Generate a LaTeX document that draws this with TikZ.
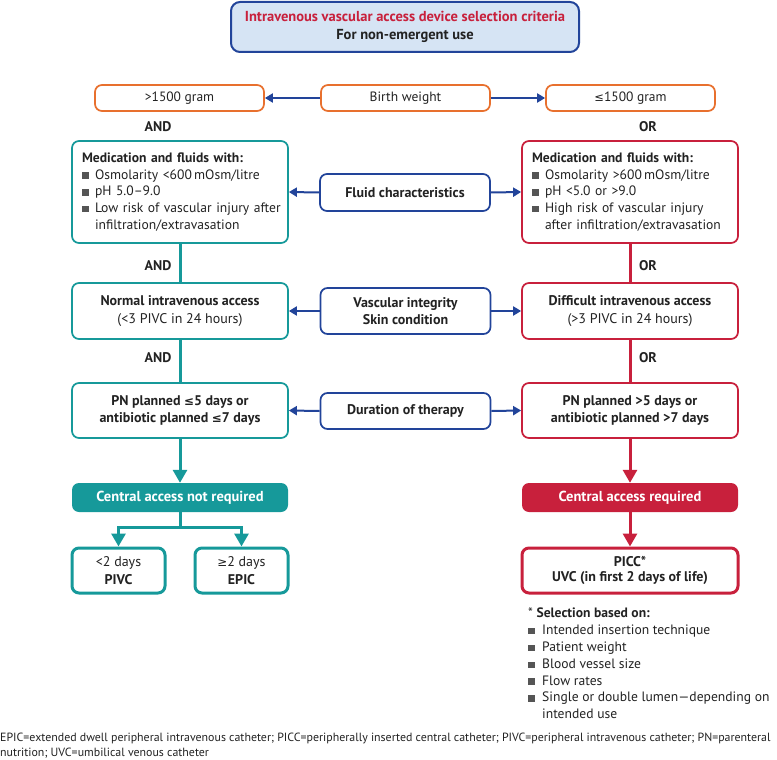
\documentclass[tikz,border=0pt]{standalone}
\usepackage{fontspec}
\setmainfont{PT Sans}
\newfontfamily\symf{DejaVu Sans}
\usetikzlibrary{arrows.meta}
\definecolor{tealc}{HTML}{16999A}
\definecolor{redc}{HTML}{C8203C}
\definecolor{bluec}{HTML}{22449A}
\definecolor{orangec}{HTML}{E8702E}
\definecolor{titlefill}{HTML}{D6E4F4}
\definecolor{bgray}{HTML}{555555}
\definecolor{txtc}{HTML}{222222}
\newcommand{\mybul}{\makebox[13pt][l]{\textcolor{bgray}{\rule[0.3pt]{6.5pt}{6.5pt}}}}
\newcommand{\myind}{\hspace*{13pt}}
\newcommand{\myle}{{\symf\scalebox{0.85}{≤}}}
\newcommand{\myge}{{\symf\scalebox{0.85}{≥}}}
\begin{document}
\begin{tikzpicture}[x=1pt,y=-1pt,
  every node/.style={text=txtc, font=\fontsize{14}{16.5}\selectfont},
  basebox/.style={rounded corners=7pt, line width=1.7pt, inner sep=0pt, align=center},
  orangebox/.style={basebox, draw=orangec, minimum width=169pt, minimum height=26pt, font=\fontsize{13.5}{16.5}\selectfont},
  bluebox/.style={basebox, draw=bluec, minimum width=170pt},
  tealbox/.style={basebox, draw=tealc, minimum width=216pt},
  redbox/.style={basebox, draw=redc, minimum width=216pt},
  listbox/.style={align=left, text width=202pt, inner xsep=7pt, inner ysep=0pt, font=\fontsize{13.6}{16.6}\selectfont},
  tealfill/.style={rounded corners=7pt, fill=tealc, minimum width=216pt, minimum height=29pt, text=white, font=\fontsize{14.5}{16}\selectfont\bfseries},
  redfill/.style={rounded corners=7pt, fill=redc, minimum width=216pt, minimum height=29pt, text=white, font=\fontsize{14.5}{16}\selectfont\bfseries},
  lab/.style={font=\fontsize{14}{16}\selectfont\bfseries},
  bluearrow/.style={draw=bluec, line width=2pt, -{Triangle[length=8pt,width=9pt]}},
  tealline/.style={draw=tealc, line width=3pt},
  redline/.style={draw=redc, line width=3pt},
  tealarrow/.style={tealline, -{Triangle[length=13pt,width=14pt]}},
  redarrow/.style={redline, -{Triangle[length=13pt,width=14pt]}}
]
\useasboundingbox (0,0) rectangle (777,760);

% title
\node[basebox, draw=bluec, line width=2pt, fill=titlefill, minimum width=348pt, minimum height=50pt, rounded corners=9pt, font=\fontsize{14.5}{17.5}\selectfont\bfseries] (title) at (405,27)
  {\textcolor{redc}{Intravenous vascular access device selection criteria}\\
   For non-emergent use};

% birth weight row
\node[orangebox] (bwL) at (179.5,98) {>1500 gram};
\node[orangebox] (bw) at (405.5,98) {Birth weight};
\node[orangebox] (bwR) at (630.5,98) {\myle1500 gram};
\draw[bluearrow] (bw.west) -- (bwL.east);
\draw[bluearrow] (bw.east) -- (bwR.west);
\node[lab] (and1) at (158,127) {AND};
\node[lab] (or1) at (648,127) {OR};

% fluid row
\node[tealbox, listbox, minimum height=102pt] (fluidL) at (180,192)
  {\hspace*{3pt}{\bfseries Medication and fluids with:}\\
   \hspace*{3pt}\mybul Osmolarity <600\,mOsm/litre\\
   \hspace*{3pt}\mybul pH 5.0–9.0\\
   \hspace*{3pt}\mybul Low risk of vascular injury after\\
   \hspace*{3pt}\myind infiltration/extravasation};
\node[bluebox, minimum height=37pt] (fluid) at (405,192.5) {\bfseries Fluid characteristics};
\node[redbox, listbox, minimum height=102pt] (fluidR) at (630,192)
  {\hspace*{3pt}{\bfseries Medication and fluids with:}\\
   \hspace*{3pt}\mybul Osmolarity >600\,mOsm/litre\\
   \hspace*{3pt}\mybul pH <5.0 or >9.0\\
   \hspace*{3pt}\mybul High risk of vascular injury\\
   \hspace*{3pt}\myind after infiltration/extravasation};
\draw[bluearrow] (fluid.west) -- (fluidL.east);
\draw[bluearrow] (fluid.east) -- (fluidR.west);

% normal access row
\node[tealbox, minimum height=56pt] (normL) at (180,311)
  {{\bfseries Normal intravenous access}\\[2pt](<3 PIVC in 24 hours)};
\node[bluebox, minimum height=46pt] (vasc) at (405.5,311)
  {\bfseries Vascular integrity\\[1pt]\bfseries Skin condition};
\node[redbox, minimum height=56pt] (normR) at (630,311)
  {{\bfseries Difficult intravenous access}\\[2pt](>3 PIVC in 24 hours)};
\draw[bluearrow] (vasc.west) -- (normL.east);
\draw[bluearrow] (vasc.east) -- (normR.west);
\draw[tealline] (fluidL.south) -- (normL.north);
\draw[redline] (fluidR.south) -- (normR.north);
\node[lab] (and2) at (158,266) {AND};
\node[lab] (or2) at (648,266) {OR};

% PN row
\node[tealbox, minimum height=55pt] (pnL) at (180,410.5)
  {\bfseries PN planned \myle5 days or\\\bfseries antibiotic planned \myle7 days};
\node[bluebox, minimum height=36pt] (dur) at (405.5,411) {\bfseries Duration of therapy};
\node[redbox, minimum height=55pt] (pnR) at (630,410.5)
  {\bfseries PN planned >5 days or\\\bfseries antibiotic planned >7 days};
\draw[bluearrow] (dur.west) -- (pnL.east);
\draw[bluearrow] (dur.east) -- (pnR.west);
\draw[tealline] (normL.south) -- (pnL.north);
\draw[redline] (normR.south) -- (pnR.north);
\node[lab] (and3) at (158,358) {AND};
\node[lab] (or3) at (648,358) {OR};

% central access
\node[tealfill] (centL) at (180,497.5) {Central access not required};
\node[redfill] (centR) at (630,497.5) {Central access required};
\draw[tealarrow] (pnL.south) -- (centL.north);
\draw[redarrow] (pnR.south) -- (centR.north);

% bottom boxes
\node[basebox, draw=tealc, line width=3pt, minimum width=93pt, minimum height=45pt] (pivc) at (118.5,570.5)
  {<2 days\\[1pt]\bfseries PIVC};
\node[basebox, draw=tealc, line width=3pt, minimum width=93pt, minimum height=45pt] (epic) at (241.5,570.5)
  {\myge2 days\\[1pt]\bfseries EPIC};
\node[basebox, draw=redc, line width=3pt, minimum width=216pt, minimum height=45pt, font=\fontsize{14}{15}\selectfont\bfseries] (picc) at (630,570.5)
  {PICC*\\UVC (in first 2 days of life)};
\coordinate (br) at (180,527);
\draw[tealline] (centL.south) -- (br);
\draw[tealarrow, line join=miter] (br) -| (pivc.north);
\draw[tealarrow, line join=miter] (br) -| (epic.north);
\draw[redarrow] (centR.south) -- (picc.north);

% selection notes
\node[anchor=north west, align=left, inner sep=0pt, font=\fontsize{13.6}{16.8}\selectfont] (notes) at (528,608)
  {* {\bfseries Selection based on:}\\
   \makebox[14pt][l]{\textcolor{bgray}{\rule[0.3pt]{6.5pt}{6.5pt}}}Intended insertion technique\\
   \makebox[14pt][l]{\textcolor{bgray}{\rule[0.3pt]{6.5pt}{6.5pt}}}Patient weight\\
   \makebox[14pt][l]{\textcolor{bgray}{\rule[0.3pt]{6.5pt}{6.5pt}}}Blood vessel size\\
   \makebox[14pt][l]{\textcolor{bgray}{\rule[0.3pt]{6.5pt}{6.5pt}}}Flow rates\\
   \makebox[14pt][l]{\textcolor{bgray}{\rule[0.3pt]{6.5pt}{6.5pt}}}Single or double lumen—depending on\\
   \hspace*{14pt}intended use};

% footnote
\node[anchor=west, align=left, inner sep=0pt, font=\fontsize{11.9}{15}\selectfont, text=txtc] (foot) at (0,746)
  {EPIC=extended dwell peripheral intravenous catheter; PICC=peripherally inserted central catheter; PIVC=peripheral intravenous catheter; PN=parenteral\\
   nutrition; UVC=umbilical venous catheter};
\end{tikzpicture}
\end{document}
